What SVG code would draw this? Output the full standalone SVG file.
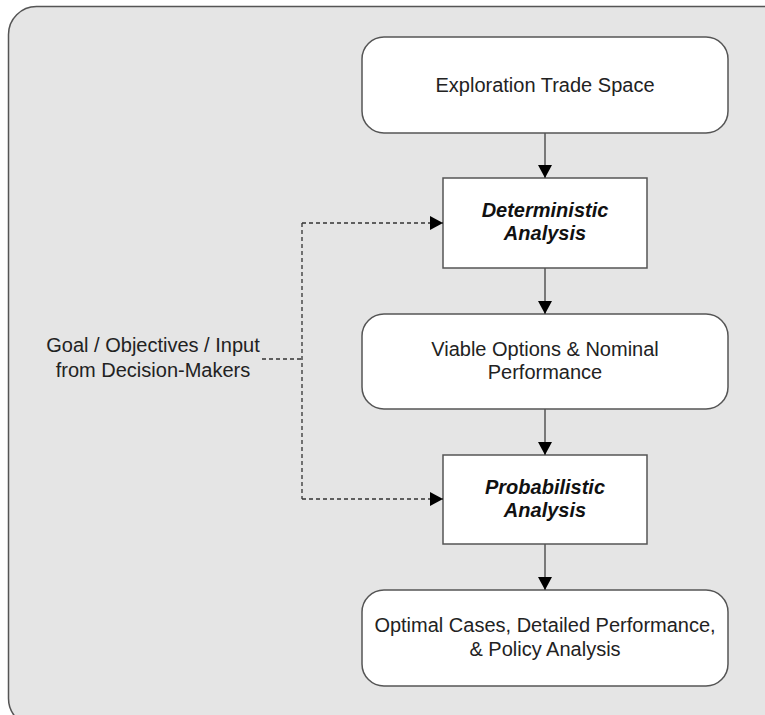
<svg xmlns="http://www.w3.org/2000/svg" width="765" height="715" viewBox="0 0 765 715">
<defs>
<marker id="ah" markerWidth="14" markerHeight="14" refX="13" refY="7" orient="auto" markerUnits="userSpaceOnUse">
<path d="M0,0 L13,7 L0,14 Z" fill="#000"/>
</marker>
<style>
.bg{fill:#e5e5e5;stroke:#555;stroke-width:1.5}
.rbox{fill:#fff;stroke:#555;stroke-width:1.5}
.sbox{fill:#fff;stroke:#555;stroke-width:1.5}
.t{font-family:"Liberation Sans",Arial,sans-serif;font-size:20px;fill:#222;text-anchor:middle}
.bi{font-weight:bold;font-style:italic;fill:#111}
.c{stroke:#555;stroke-width:1.5;fill:none}
.d{stroke:#333;stroke-width:1.3;fill:none;stroke-dasharray:4,3}
</style>
</defs>
<rect class="bg" x="8.5" y="6.5" width="790" height="720" rx="28"/>
<g id="n1"><rect class="rbox" x="362" y="37" width="366" height="96" rx="22"/><text class="t" x="545" y="92">Exploration Trade Space</text></g>
<g id="n2"><rect class="sbox" x="443" y="178" width="204" height="90"/><text class="t bi" x="545" y="217">Deterministic</text><text class="t bi" x="545" y="240">Analysis</text></g>
<g id="n3"><rect class="rbox" x="362" y="314" width="366" height="95" rx="22"/><text class="t" x="545" y="356">Viable Options &amp; Nominal</text><text class="t" x="545" y="379">Performance</text></g>
<g id="n4"><rect class="sbox" x="443" y="455" width="204" height="89"/><text class="t bi" x="545" y="494">Probabilistic</text><text class="t bi" x="545" y="517">Analysis</text></g>
<g id="n5"><rect class="rbox" x="362" y="590" width="366" height="96" rx="22"/><text class="t" x="545" y="632">Optimal Cases, Detailed Performance,</text><text class="t" x="545" y="656">&amp; Policy Analysis</text></g>
<g id="n6"><text class="t" x="153" y="352">Goal / Objectives / Input</text><text class="t" x="153" y="377">from Decision-Makers</text></g>
<g id="connectors">
<line class="c" x1="545" y1="133" x2="545" y2="178" marker-end="url(#ah)"/>
<line class="c" x1="545" y1="268" x2="545" y2="314" marker-end="url(#ah)"/>
<line class="c" x1="545" y1="409" x2="545" y2="455" marker-end="url(#ah)"/>
<line class="c" x1="545" y1="544" x2="545" y2="590" marker-end="url(#ah)"/>
<line class="d" x1="262" y1="359" x2="302" y2="359"/>
<line class="d" x1="302" y1="223" x2="302" y2="499"/>
<line class="d" x1="302" y1="223" x2="443" y2="223" marker-end="url(#ah)"/>
<line class="d" x1="302" y1="499" x2="443" y2="499" marker-end="url(#ah)"/>
</g>
</svg>
